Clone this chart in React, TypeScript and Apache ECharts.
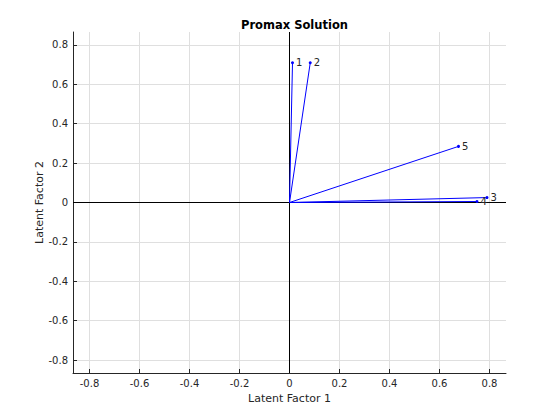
import React, { useEffect, useRef } from "react";
import * as echarts from "echarts";

const varLabels = ["1", "2", "3", "4", "5"];
const loadX = [0.012, 0.083, 0.79, 0.75, 0.676];
const loadY = [0.71, 0.71, 0.025, 0.005, 0.285];
const tickValues = [-0.8, -0.6, -0.4, -0.2, 0, 0.2, 0.4, 0.6, 0.8];
const axisLimit = 0.866;

const TEXT = "#262626";
const FONT = "DejaVu Sans";

export default function App() {
  const ref = useRef<HTMLDivElement>(null);
  useEffect(() => {
    if (!ref.current) return;
    const chart = echarts.init(ref.current, undefined, { renderer: "svg" });

    const axisCommon = (name: string, isY: boolean) => ({
      type: "value",
      min: -axisLimit,
      max: axisLimit,
      name,
      nameLocation: "middle",
      nameGap: isY ? 28 : 20,
      nameMoveOverlap: false,
      nameTextStyle: { color: TEXT, fontSize: 11, fontFamily: FONT },
      axisLine: { show: true, onZero: false, lineStyle: { color: TEXT, width: 1 } },
      axisTick: {
        show: true,
        inside: true,
        length: 4,
        customValues: tickValues,
        lineStyle: { color: TEXT },
      },
      axisLabel: {
        show: true,
        customValues: tickValues,
        color: TEXT,
        fontSize: 10,
        fontFamily: FONT,
        margin: 5,
        formatter: (v: number) => String(Math.round(v * 10) / 10),
      },
      splitLine: { show: true, lineStyle: { color: "#dfdfdf", width: 1 } },
    });

    const vectorSeries = varLabels.map((lab, i) => ({
      type: "line",
      name: "v" + lab,
      data: [
        [0, 0],
        {
          value: [loadX[i], loadY[i]],
          symbolSize: 3,
          label: {
            show: true,
            position: "right",
            distance: 2,
            formatter: lab,
            color: TEXT,
            fontSize: 10,
            fontFamily: FONT,
          },
        },
      ],
      symbol: "circle",
      symbolSize: 0,
      showSymbol: true,
      itemStyle: { color: "#0000ff" },
      lineStyle: { color: "#0000ff", width: 1 },
      z: 3,
    }));

    chart.setOption({
      animation: false,
      backgroundColor: "#ffffff",
      title: {
        text: "Promax Solution",
        left: 289.5,
        textAlign: "center",
        top: 14,
        textStyle: { color: "#000000", fontSize: 11.5, fontWeight: "bold", fontFamily: FONT },
      },
      grid: { left: 73, right: 54, top: 32, bottom: 47, containLabel: false },
      xAxis: axisCommon("Latent Factor 1", false),
      yAxis: axisCommon("Latent Factor 2", true),
      series: [
        {
          type: "line",
          name: "xzero",
          data: [
            [-axisLimit, 0],
            [axisLimit, 0],
          ],
          symbol: "none",
          lineStyle: { color: "#000000", width: 1 },
          z: 2,
        },
        {
          type: "line",
          name: "yzero",
          data: [
            [0, -axisLimit],
            [0, axisLimit],
          ],
          symbol: "none",
          lineStyle: { color: "#000000", width: 1 },
          z: 2,
        },
        ...vectorSeries,
      ],
    });
    return () => chart.dispose();
  }, []);
  return <div ref={ref} style={{ width: 560, height: 420, position: "absolute", left: 0, top: 0 }} />;
}
